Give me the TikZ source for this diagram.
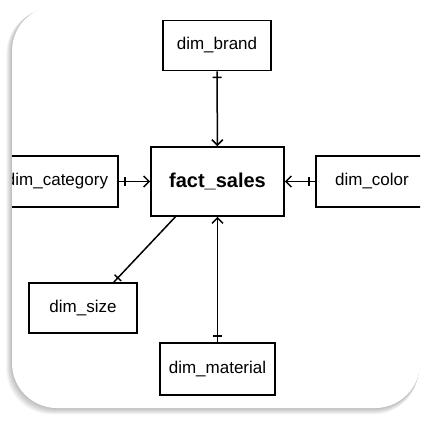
\documentclass[tikz,border=0pt]{standalone}
\usepackage{fontspec}
\setmainfont{Liberation Sans}
\usetikzlibrary{arrows.meta,decorations.markings}

\begin{document}
\begin{tikzpicture}[x=1pt,y=-1pt,
    tbl/.style={draw, line width=1.6pt, fill=white, minimum width=108pt, minimum height=50pt,
      inner sep=0pt, font=\fontsize{17}{20}\selectfont},
    rel/.style={line width=1.5pt, -{Straight Barb[length=5.5pt,width=11pt]}},
    reltick/.style={postaction={decorate}, decoration={markings,
      mark=at position 6pt with {\draw[-, line width=1.5pt] (0,-4.5pt) -- (0,4.5pt);}}}]
  \useasboundingbox (0,0) rectangle (428,420);

  % Card with soft shadow
  \foreach \i in {1,...,7}
    \fill[black, opacity=0.04, rounded corners=45pt] ({12-0.8*\i},{6+0.4*\i}) rectangle ({420-0.2*\i},{408+0.9*\i});
  \fill[white, rounded corners=45pt] (12,6) rectangle (420,408);

  \begin{scope}
    \clip[rounded corners=45pt] (12,6) rectangle (420,408);

    % Tables
    \node[tbl] (brand) at (217,45.5) {dim\_brand};
    \node[tbl, minimum width=133pt, minimum height=69pt, font=\bfseries\fontsize{20}{24}\selectfont] (fact) at (217.5,181.5) {fact\_sales};
    \node[tbl, minimum width=122pt, minimum height=51pt] (category) at (57,181.5) {dim\_category};
    \node[tbl, minimum width=112pt, minimum height=51pt] (color) at (372,181.5) {dim\_color};
    \node[tbl] (size) at (83,308) {dim\_size};
    \node[tbl, minimum width=115pt, minimum height=52pt] (material) at (217.5,369) {dim\_material};

    % Relations
    \draw[rel, reltick] (brand) -- (fact);
    \draw[rel, reltick] (category) -- (fact);
    \draw[rel, reltick] (color) -- (fact);
    \draw[rel, reltick] (material) -- (fact);
    \draw[line width=1.5pt, reltick] (size.40) -- (fact.220);
  \end{scope}
\end{tikzpicture}
\end{document}
